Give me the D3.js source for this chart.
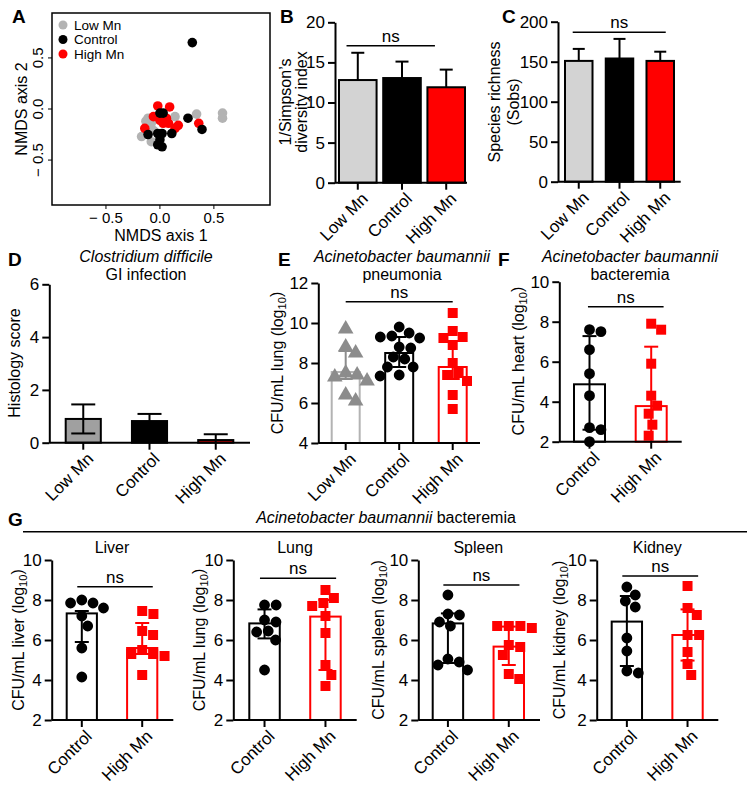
<!DOCTYPE html>
<html><head><meta charset="utf-8">
<script src="https://cdn.jsdelivr.net/npm/d3@7"></script>
<style>
body{margin:0;background:#fff;}
svg{font-family:"Liberation Sans",Arial,Helvetica,sans-serif;}
</style></head><body>
<svg id="chart" width="754" height="787"></svg>
<script>
// ---------------- DATA ----------------
// Panel A: NMDS ordination [axis1, axis2]
const nmdsGroups = ["Low Mn","Control","High Mn"];
const nmdsLowMn = [[-0.11,-0.09],[0.14,-0.075],[0.34,-0.05],[0.58,-0.04],[0.58,-0.09],[-0.08,-0.14],[-0.17,-0.27],[-0.08,-0.32],[-0.06,-0.21],[-0.13,-0.12]];
const nmdsControl = [[0.30,0.65],[0.0,-0.04],[0.03,-0.04],[0.26,-0.09],[0.39,-0.20],[-0.11,-0.25],[-0.02,-0.24],[0.02,-0.24],[0.11,-0.24],[0.0,-0.30],[0.02,-0.37],[-0.02,-0.35]];
const nmdsHighMn = [[-0.02,0.03],[0.09,0.02],[-0.06,-0.075],[0.03,-0.14],[0.08,-0.14],[0.17,-0.16],[0.14,-0.19],[0.36,-0.14],[-0.14,-0.19],[0.0,-0.11],[0.06,-0.09]];
const nmdsTicks = [-0.5, 0, 0.5];

// Panels B, C, D, E categories
const dietGroups = ["Low Mn","Control","High Mn"];
// B: inverse Simpson
const simpsonMean = [12.8, 13.05, 11.9];
const simpsonSD = [3.4, 2.05, 2.2];
const simpsonTicks = [0,5,10,15,20];
// C: species richness
const richMean = [151, 154, 151];
const richSD = [15, 24.5, 11.5];
const richTicks = [0,50,100,150,200];
// D: histology score
const histoMean = [0.9, 0.82, 0.1];
const histoSD = [0.55, 0.27, 0.22];
const histoTicks = [0,2,4,6];
// E: pneumonia lung burden
const lungPneuLowMn = [9.7, 8.8, 8.5, 7.5, 7.4, 7.3, 7.1, 6.4, 6.1];
const lungPneuControl = [9.8, 9.5, 9.35, 9.3, 9.25, 8.8, 8.75, 8.3, 8.2, 7.8, 7.8, 7.4, 7.35];
const lungPneuHighMn = [10.5, 9.6, 9.3, 9.25, 8.9, 8.0, 7.5, 7.4, 7.1, 6.4, 5.7];
const lungPneuMid = [7.55, 8.5, 7.8];
const lungPneuLo = [7.2, 7.8, 7.2];
const lungPneuHi = [8.6, 9.3, 9.1];
const pneuTicks = [4,6,8,10,12];
// F + G: bacteremia
const bactGroups = ["Control","High Mn"];
const heartControl = [7.6, 7.5, 6.6, 5.4, 4.3, 2.7, 2.6, 2.0];
const heartHighMn = [7.9, 7.6, 5.9, 4.3, 3.8, 3.4, 2.85, 2.3];
const heartMid = [4.87, 3.78];
const heartLo = [2.6, 2.0];
const heartHi = [7.28, 6.75];
const liverControl = [8.0, 7.85, 7.85, 7.6, 7.2, 6.7, 5.6, 4.15];
const liverHighMn = [7.45, 7.3, 6.45, 6.25, 5.5, 5.3, 5.3, 5.2, 4.25];
const liverMid = [7.33, 5.6];
const liverLo = [5.9, 5.3];
const liverHi = [7.45, 6.85];
const lungControl = [7.75, 7.75, 7.0, 6.9, 6.45, 6.4, 6.0, 4.5];
const lungHighMn = [8.5, 8.1, 7.85, 7.7, 7.2, 6.35, 4.75, 4.25, 3.7];
const lungMid = [6.83, 7.17];
const lungLo = [6.08, 4.5];
const lungHi = [7.53, 8.0];
const spleenControl = [8.25, 7.3, 7.25, 6.9, 6.7, 5.05, 4.9, 4.75, 4.5];
const spleenHighMn = [6.7, 6.7, 6.7, 6.6, 5.75, 5.65, 5.25, 4.3, 4.05];
const spleenMid = [6.83, 5.67];
const spleenLo = [4.85, 4.75];
const spleenHi = [7.33, 6.67];
const kidneyControl = [8.65, 8.25, 7.95, 7.65, 6.1, 5.45, 4.45, 4.35];
const kidneyHighMn = [8.7, 7.6, 7.25, 6.25, 6.25, 5.4, 4.8, 4.25];
const kidneyMid = [6.92, 6.25];
const kidneyLo = [4.7, 4.97];
const kidneyHi = [8.2, 7.53];
const cfuTicks = [2,4,6,8,10];

// ---------------- DRAWING ----------------
const svg = d3.select("#chart");
const RED = "#ff0000", GREY = "#b3b3b3", DGREY = "#8c8c8c";
const FT = 17, FC = 17, FL = 16;

function letter(t, x, y){ svg.append("text").attr("x",x).attr("y",y).attr("font-size",19).attr("font-weight","bold").text(t); }

function vlabel(x, cy, parts, size){
  const t = svg.append("text").attr("transform",`translate(${x},${cy}) rotate(-90)`)
    .attr("text-anchor","middle").attr("font-size",size||FL);
  parts.forEach(p=>{
    const s = t.append("tspan").text(p.t);
    if(p.sub) s.attr("font-size",(size||FL)*0.7).attr("dy","0.3em");
    if(p.after) s.attr("dy","-0.3em");
  });
}
function title(cx, y, parts, size){
  const t = svg.append("text").attr("x",cx).attr("y",y).attr("text-anchor","middle").attr("font-size",size||FL);
  parts.forEach(p=>{ const s=t.append("tspan").text(p.t); if(p.it) s.attr("font-style","italic"); });
}

// ---- Panel A
(function(){
  const x = d3.scaleLinear().domain([-1.0,1.02]).range([52,270]);
  const y = d3.scaleLinear().domain([-0.94,0.94]).range([205,13]);
  const g = svg.append("g");
  g.append("rect").attr("x",x.range()[0]).attr("y",y.range()[1])
   .attr("width",x.range()[1]-x.range()[0]).attr("height",y.range()[0]-y.range()[1])
   .attr("fill","none").attr("stroke","#000").attr("stroke-width",1.5);
  const fmt = d => d<0 ? "\u2212 "+Math.abs(d).toFixed(1) : d.toFixed(1);
  nmdsTicks.forEach(t=>{
    g.append("line").attr("x1",x(t)).attr("x2",x(t)).attr("y1",y.range()[0]).attr("y2",y.range()[0]+4).attr("stroke","#000");
    g.append("text").attr("x",x(t)).attr("y",223).attr("text-anchor","middle").attr("font-size",15).text(fmt(t));
    g.append("line").attr("x1",x.range()[0]).attr("x2",x.range()[0]-4).attr("y1",y(t)).attr("y2",y(t)).attr("stroke","#000");
    g.append("text").attr("transform",`translate(43,${y(t)}) rotate(-90)`).attr("text-anchor","middle").attr("font-size",15).text(fmt(t));
  });
  g.append("text").attr("x",161).attr("y",241).attr("text-anchor","middle").attr("font-size",FL).text("NMDS axis 1");
  g.append("text").attr("transform",`translate(27,${y(0)}) rotate(-90)`).attr("text-anchor","middle").attr("font-size",FL).text("NMDS axis 2");
  const sets = [[nmdsLowMn,GREY],[nmdsHighMn,RED],[nmdsControl,"#000"]];
  sets.forEach(([d,c])=>{
    g.selectAll(null).data(d).join("circle").attr("cx",p=>x(p[0])).attr("cy",p=>y(p[1])).attr("r",4.8).attr("fill",c);
  });
  const legCols = {"Low Mn":GREY,"Control":"#000","High Mn":RED};
  nmdsGroups.forEach((n,i)=>{
    g.append("circle").attr("cx",63).attr("cy",25+i*14.5).attr("r",4.5).attr("fill",legCols[n]);
    g.append("text").attr("x",74).attr("y",25+i*14.5).attr("dy","0.35em").attr("font-size",13.5).text(n);
  });
})();

// ---- generic bar panel
function styleAxis(ax){
  ax.attr("font-family",null).attr("font-size",FT);
  ax.selectAll("path,line").attr("stroke","#000").attr("stroke-width",2);
  ax.selectAll("text").attr("fill","#000");
}
function dodge(vals, y, r){
  const placed=[]; const out=new Array(vals.length);
  const order = vals.map((v,i)=>i).sort((a,b)=>vals[b]-vals[a]);
  const D = 2*r;
  for(const i of order){
    const py=y(vals[i]); const c=[0];
    for(const p of placed){ const dy=Math.abs(p.y-py); if(dy<D){ const dx=Math.sqrt(D*D-dy*dy); c.push(p.x+dx+0.01,p.x-dx-0.01);} }
    c.sort((a,b)=>Math.abs(a)-Math.abs(b));
    for(const cx of c){ if(placed.every(p=>(p.x-cx)**2+(p.y-py)**2>=D*D-0.1)){ out[i]=cx; placed.push({x:cx,y:py}); break; } }
  }
  return out;
}
function barPanel(o){
  const g = svg.append("g");
  const y = d3.scaleLinear().domain(o.yDom).range(o.yRange);
  const x = d3.scaleBand().domain(o.cats).range(o.band).paddingInner(o.pi).paddingOuter(0);
  const bw = x.bandwidth(), y0 = y(o.yDom[0]);
  const cx = c => x(c)+bw/2;
  // bars
  o.cats.forEach((c,i)=>{
    g.append("rect").attr("x",x(c)).attr("width",bw).attr("y",y(o.mid[i])).attr("height",y0-y(o.mid[i]))
      .attr("fill",o.fill[i]).attr("stroke",o.stroke[i]).attr("stroke-width",2);
  });
  // points
  if(o.points){
    o.cats.forEach((c,i)=>{
      const vals=o.points[i]; const off=dodge(vals,y,o.r+0.5);
      const sym = d3.symbol().type(o.shape[i]).size(o.symSize[i]);
      g.selectAll(null).data(vals).join("path").attr("d",sym)
        .attr("transform",(v,j)=>`translate(${cx(c)+off[j]},${y(v)})`).attr("fill",o.pcol[i]);
    });
  }
  // error bars
  o.cats.forEach((c,i)=>{
    const hi=o.hi[i], lo=Math.max(o.lo[i],o.yDom[0]);
    const col=o.ecol[i], cw=o.capW;
    g.append("line").attr("x1",cx(c)).attr("x2",cx(c)).attr("y1",y(hi)).attr("y2",y(o.both?lo:o.mid[i])).attr("stroke",col).attr("stroke-width",2);
    g.append("line").attr("x1",cx(c)-cw/2).attr("x2",cx(c)+cw/2).attr("y1",y(hi)).attr("y2",y(hi)).attr("stroke",col).attr("stroke-width",2);
    if(o.both && o.lo[i]>o.yDom[0])
      g.append("line").attr("x1",cx(c)-cw/2).attr("x2",cx(c)+cw/2).attr("y1",y(lo)).attr("y2",y(lo)).attr("stroke",col).attr("stroke-width",2);
  });
  // axes
  const ay = g.append("g").attr("transform",`translate(${o.axisX},0)`)
    .call(d3.axisLeft(y).tickValues(o.ticks).tickFormat(d=>String(d)).tickSizeInner(7).tickSizeOuter(0).tickPadding(3));
  styleAxis(ay);
  const ax = g.append("g").attr("transform",`translate(0,${y0})`)
    .call(d3.axisBottom(x).tickSizeInner(7).tickSizeOuter(0));
  ax.select(".domain").attr("d",`M${o.axisX},0H${o.axisEnd}`);
  styleAxis(ax);
  ax.selectAll(".tick text").attr("x",0).attr("y",0).attr("dy","0.35em").attr("text-anchor","end")
    .attr("font-size",FC).attr("transform","translate(7,13) rotate(-45)");
  // ns
  if(o.ns){
    const a = x(o.cats[0])+bw*o.ns[1], b = x(o.cats[o.cats.length-1])+bw*o.ns[2];
    g.append("line").attr("x1",a).attr("x2",b).attr("y1",o.ns[0]).attr("y2",o.ns[0]).attr("stroke","#000").attr("stroke-width",1.5);
    g.append("text").attr("x",(a+b)/2).attr("y",o.ns[0]-4).attr("text-anchor","middle").attr("font-size",FC).text("ns");
  }
  return g;
}

// ---- Panel B
barPanel({yDom:[0,20], yRange:[182.7,22.3], ticks:simpsonTicks, cats:dietGroups, band:[339,465], pi:0.15,
  axisX:335, axisEnd:467, mid:simpsonMean, hi:simpsonMean.map((m,i)=>m+simpsonSD[i]), lo:simpsonMean,
  fill:["#d3d3d3","#000",RED], stroke:["#000","#000","#000"], ecol:["#000","#000","#000"], capW:13, both:false,
  ns:[45.7,0.2,0.2]});
vlabel(291,102,[{t:"1/Simpson\u2019s"}]);
vlabel(307,102,[{t:"diversity index"}]);

// ---- Panel C
barPanel({yDom:[0,200], yRange:[181.7,21.7], ticks:richTicks, cats:dietGroups, band:[565,674], pi:0.325,
  axisX:558, axisEnd:680.7, mid:richMean, hi:richMean.map((m,i)=>m+richSD[i]), lo:richMean,
  fill:["#d3d3d3","#000",RED], stroke:["#000","#000","#000"], ecol:["#000","#000","#000"], capW:12, both:false,
  ns:[32.3,0.28,0.7]});
vlabel(500,102,[{t:"Species richness"}]);
vlabel(519,102,[{t:"(Sobs)"}]);

// ---- Panel D
barPanel({yDom:[0,6], yRange:[442.7,284.3], ticks:histoTicks, cats:dietGroups, band:[65.7,233.3], pi:0.47,
  axisX:49.3, axisEnd:250, mid:histoMean, hi:histoMean.map((m,i)=>m+histoSD[i]), lo:histoMean.map((m,i)=>m-histoSD[i]),
  fill:["#a0a0a0","#000",RED], stroke:["#000","#000","#000"], ecol:["#000","#000","#000"], capW:24, both:true});
vlabel(20,363,[{t:"Histology score"}]);
title(146,262,[{t:"Clostridium difficile",it:true}]);
title(146,280,[{t:"GI infection"}]);

// ---- Panel E
barPanel({yDom:[4,12], yRange:[443,283], ticks:pneuTicks, cats:dietGroups, band:[331.7,466.7], pi:0.477,
  axisX:318.3, axisEnd:480, mid:lungPneuMid, hi:lungPneuHi, lo:lungPneuLo,
  points:[lungPneuLowMn,lungPneuControl,lungPneuHighMn], r:5.3,
  shape:[d3.symbolTriangle,d3.symbolCircle,d3.symbolSquare], symSize:[105,92,100],
  pcol:[DGREY,"#000",RED], fill:["none","none","none"], stroke:[GREY,"#000",RED], ecol:[DGREY,"#000",RED], capW:14, both:true,
  ns:[301.7,0.5,0.5]});
vlabel(283,363,[{t:"CFU/mL lung (log"},{t:"10",sub:true},{t:")",after:true}]);
title(402,262,[{t:"Acinetobacter baumannii",it:true}]);
title(402,280,[{t:"pneumonia"}]);

// ---- Panel F
barPanel({yDom:[2,10], yRange:[441.7,281.7], ticks:cfuTicks, cats:bactGroups, band:[574,666.7], pi:0.4976,
  axisX:559.3, axisEnd:681.7, mid:heartMid, hi:heartHi, lo:heartLo,
  points:[heartControl,heartHighMn], r:5.3,
  shape:[d3.symbolCircle,d3.symbolSquare], symSize:[92,100],
  pcol:["#000",RED], fill:["none","none"], stroke:["#000",RED], ecol:["#000",RED], capW:14, both:true,
  ns:[306.7,0.45,0.9]});
vlabel(524,361,[{t:"CFU/mL heart (log"},{t:"10",sub:true},{t:")",after:true}]);
title(630,262,[{t:"Acinetobacter baumannii",it:true}]);
title(630,280,[{t:"bacteremia"}]);

// ---- Panel G
svg.append("line").attr("x1",23).attr("x2",747).attr("y1",531.7).attr("y2",531.7).attr("stroke","#000").attr("stroke-width",1.5);
title(386,523,[{t:"Acinetobacter baumannii",it:true},{t:" bacteremia"}]);
const organs = [
  {name:"Liver", pts:[liverControl,liverHighMn], mid:liverMid, lo:liverLo, hi:liverHi, axisX:51.7, end:173.3, band:[66.7,157.3], nsY:586.7, lab:"liver", lx:24},
  {name:"Lung", pts:[lungControl,lungHighMn], mid:lungMid, lo:lungLo, hi:lungHi, axisX:233.3, end:356.7, band:[249.3,340.7], nsY:578.3, lab:"lung", lx:205},
  {name:"Spleen", pts:[spleenControl,spleenHighMn], mid:spleenMid, lo:spleenLo, hi:spleenHi, axisX:418.3, end:540, band:[432.7,524], nsY:585, lab:"spleen", lx:384},
  {name:"Kidney", pts:[kidneyControl,kidneyHighMn], mid:kidneyMid, lo:kidneyLo, hi:kidneyHi, axisX:596.7, end:718.3, band:[611.7,702.7], nsY:576, lab:"kidney", lx:565}
];
organs.forEach(o=>{
  barPanel({yDom:[2,10], yRange:[720,560], ticks:cfuTicks, cats:bactGroups, band:o.band, pi:0.5,
    axisX:o.axisX, axisEnd:o.end, mid:o.mid, hi:o.hi, lo:o.lo, points:o.pts, r:5.3,
    shape:[d3.symbolCircle,d3.symbolSquare], symSize:[92,100],
    pcol:["#000",RED], fill:["none","none"], stroke:["#000",RED], ecol:["#000",RED], capW:14, both:true,
    ns:[o.nsY,0.35,0.85]});
  title((o.band[0]+o.band[1])/2, 553, [{t:o.name}]);
  vlabel(o.lx,640,[{t:`CFU/mL ${o.lab} (log`},{t:"10",sub:true},{t:")",after:true}]);
});

letter("A",12,23); letter("B",280,23); letter("C",502,23);
letter("D",8,266); letter("E",278,266); letter("F",498,266); letter("G",8,526);
</script>
</body></html>
